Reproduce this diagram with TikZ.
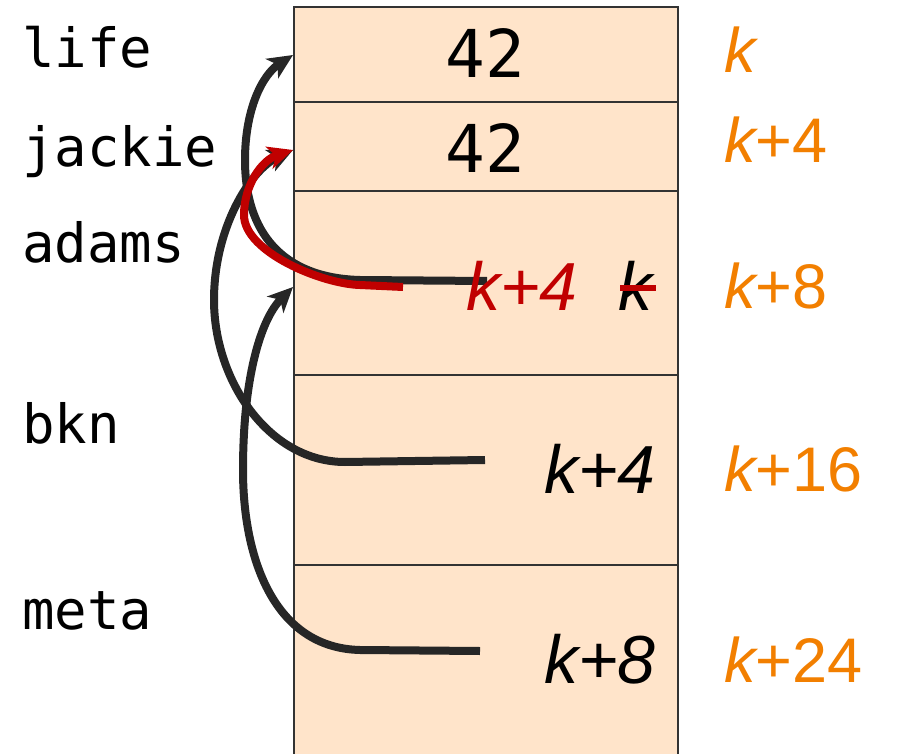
\documentclass[tikz,border=0pt]{standalone}
\usepackage{fontspec}
\setmainfont{Liberation Sans}
\newfontfamily\monofnt{DejaVu Sans Mono}
\newfontfamily\arialfnt{Liberation Sans}
\usetikzlibrary{arrows.meta}
\definecolor{peach}{HTML}{FFE4CA}
\definecolor{boxline}{HTML}{333333}
\definecolor{dk}{HTML}{262626}
\definecolor{rd}{HTML}{C00000}
\definecolor{og}{HTML}{F27F00}
\tikzset{
  cell/.style={draw=boxline, fill=peach, line width=2.2pt, minimum width=384pt, inner sep=0pt, anchor=north west},
  varlbl/.style={inner sep=0pt, anchor=base west, font=\monofnt\fontsize{54}{54}\selectfont},
  numtxt/.style={inner sep=0pt, anchor=base, font=\monofnt\fontsize{66}{66}\selectfont},
  addr/.style={inner sep=0pt, anchor=base west, text=og, font=\arialfnt\fontsize{63}{63}\selectfont},
  valtxt/.style={inner sep=0pt, font=\arialfnt\itshape\fontsize{68}{68}\selectfont},
  ptr/.style={draw=dk, line width=8pt, -{Stealth[length=25pt,width=23pt,inset=7pt]}},
  redptr/.style={draw=rd, line width=8pt, -{Stealth[length=25pt,width=23pt,inset=7pt]}}
}
\begin{document}
\begin{tikzpicture}[x=1pt,y=-1pt]
\clip (0,0) rectangle (897,754);
\useasboundingbox (0,0) rectangle (897,754);
% cells
\node[cell, minimum height=95pt] (c1) at (293,6) {};
\node[cell, minimum height=89pt] (c2) at (293,101) {};
\node[cell, minimum height=184pt] (c3) at (293,190) {};
\node[cell, minimum height=190pt] (c4) at (293,374) {};
\node[cell, minimum height=200pt] (c5) at (293,564) {};
% arrow tips and starts
\coordinate (tA) at (293,55);
\coordinate (tB) at (293,150);
\coordinate (tC) at (293,287);
\coordinate (sA) at (487,281);
\coordinate (sB) at (485,460);
\coordinate (sC) at (480,651);
\coordinate (sR) at (403,287);
% black pointers
\draw[ptr] (sA) -- (360,280) .. controls (282,278) and (245,232) .. (245,160) .. controls (245,110) and (262,75) .. (tA);
\draw[ptr] (sB) -- (345,462) .. controls (270,462) and (214,382) .. (214,300) .. controls (214,228) and (250,170) .. (tB);
\draw[ptr] (sC) -- (360,650) .. controls (275,648) and (243,560) .. (243,470) .. controls (243,380) and (260,320) .. (tC);
% red pointer
\draw[redptr] (sR) -- (360,285) .. controls (322,284) and (244,252) .. (244,215) .. controls (244,185) and (262,160) .. (tB);
% left labels
\node[varlbl] (vlife) at (22,68) {life};
\node[varlbl] (vjackie) at (22,167) {jackie};
\node[varlbl] (vadams) at (22,262) {adams};
\node[varlbl] (vbkn) at (22,443) {bkn};
\node[varlbl] (vmeta) at (22,629) {meta};
% values
\node[numtxt] (n1) at (485,78) {42};
\node[numtxt] (n2) at (485,173) {42};
\node[valtxt, anchor=base west, text=rd] (knew) at (466,310) {k+4};
\node[valtxt, anchor=base west] (kold) at (618,310) {k};
\draw[draw=rd, line width=6pt] ([yshift=-3pt,xshift=2pt]kold.west) -- ([yshift=-3pt,xshift=4pt]kold.east);
\node[valtxt, anchor=base east] (v4) at (656,493) {k+4};
\node[valtxt, anchor=base east] (v5) at (656,683) {k+8};
% addresses
\node[addr] (a1) at (724,73) {\itshape k};
\node[addr] (a2) at (724,163) {{\itshape k}+4};
\node[addr] (a3) at (724,308) {{\itshape k}+8};
\node[addr] (a4) at (724,491) {{\itshape k}+16};
\node[addr] (a5) at (724,682) {{\itshape k}+24};
\end{tikzpicture}
\end{document}
